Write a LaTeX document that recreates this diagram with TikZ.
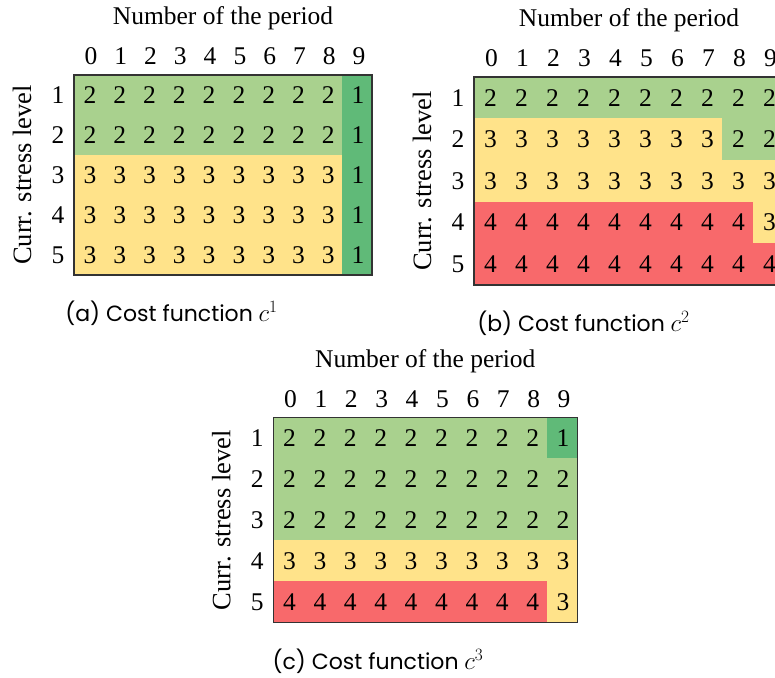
\documentclass[tikz,border=0pt]{standalone}
\usepackage{fontspec}
\setmainfont{Liberation Serif}
\newfontfamily\capfont{Poppins}
\definecolor{cc1}{HTML}{60BA78}
\definecolor{cc2}{HTML}{A9D18E}
\definecolor{cc3}{HTML}{FFE38A}
\definecolor{cc4}{HTML}{F8696B}
\definecolor{frame}{HTML}{333333}
\newcommand\capmath[1]{{\fontsize{27}{30}\selectfont$#1$}}
\tikzset{
  cell/.style={inner sep=0pt, outer sep=0pt, line width=0.5pt, font=\fontsize{25.5}{28}\selectfont},
  hdr/.style={inner sep=0pt, font=\fontsize{25.5}{28}\selectfont},
  ttl/.style={inner sep=0pt, font=\fontsize{25.5}{28}\selectfont},
  ylab/.style={inner sep=0pt, rotate=90, font=\fontsize{26.5}{28}\selectfont},
  captext/.style={inner sep=0pt, font=\capfont\fontsize{22}{26}\selectfont},
  gridframe/.style={draw=frame, line width=1.3pt},
}
\newcommand\costgrid[6]{%
  \foreach \row [count=\r from 0] in {#6} {
    \foreach \v [count=\c from 0] in \row {
      \node[cell, fill=cc\v, draw=cc\v, minimum width={#4pt}, minimum height={#5pt}]
        (#1-\r-\c) at ({#2+(\c+0.5)*#4},{#3+(\r+0.5)*#5}) {\hspace*{2pt}\v};
    }
  }
  \draw[gridframe] (#1-0-0.north west) rectangle (#1-4-9.south east);
  \foreach \c in {0,...,9} {
    \node[hdr] (#1-h\c) at ({#2+(\c+0.5)*#4+2},{#3-18.5}) {\c};
  }
  \foreach \r in {1,...,5} {
    \node[hdr] (#1-l\r) at ({#2-16},{#3+(\r-0.5)*#5}) {\r};
  }
  \node[ttl, anchor=base] (#1-title) at ({#2+5*#4},{#3-50}) {Number of the period};
  \node[ylab] (#1-ylab) at ({#2-52},{#3+2.5*#5}) {Curr. stress level};
}
\begin{document}
\begin{tikzpicture}[x=1pt,y=-1pt]
\useasboundingbox (0,0) rectangle (775,677);
\fill[white] (0,0) rectangle (775,677);
\clip (0,0) rectangle (775,677);
\costgrid{a}{74}{75}{29.8}{40}{{2,2,2,2,2,2,2,2,2,1},{2,2,2,2,2,2,2,2,2,1},{3,3,3,3,3,3,3,3,3,1},{3,3,3,3,3,3,3,3,3,1},{3,3,3,3,3,3,3,3,3,1}}
\costgrid{b}{474}{77}{31}{41.6}{{2,2,2,2,2,2,2,2,2,2},{3,3,3,3,3,3,3,3,2,2},{3,3,3,3,3,3,3,3,3,3},{4,4,4,4,4,4,4,4,4,3},{4,4,4,4,4,4,4,4,4,4}}
\costgrid{c}{273.3}{417.7}{30.4}{41}{{2,2,2,2,2,2,2,2,2,1},{2,2,2,2,2,2,2,2,2,2},{2,2,2,2,2,2,2,2,2,2},{3,3,3,3,3,3,3,3,3,3},{4,4,4,4,4,4,4,4,4,3}}
\node[captext] (capa) at (171.5,313) {(a) Cost function \capmath{c^1}};
\node[captext] (capb) at (583.5,323) {(b) Cost function \capmath{c^2}};
\node[captext] (capc) at (378,661) {(c) Cost function \capmath{c^3}};
\end{tikzpicture}
\end{document}
